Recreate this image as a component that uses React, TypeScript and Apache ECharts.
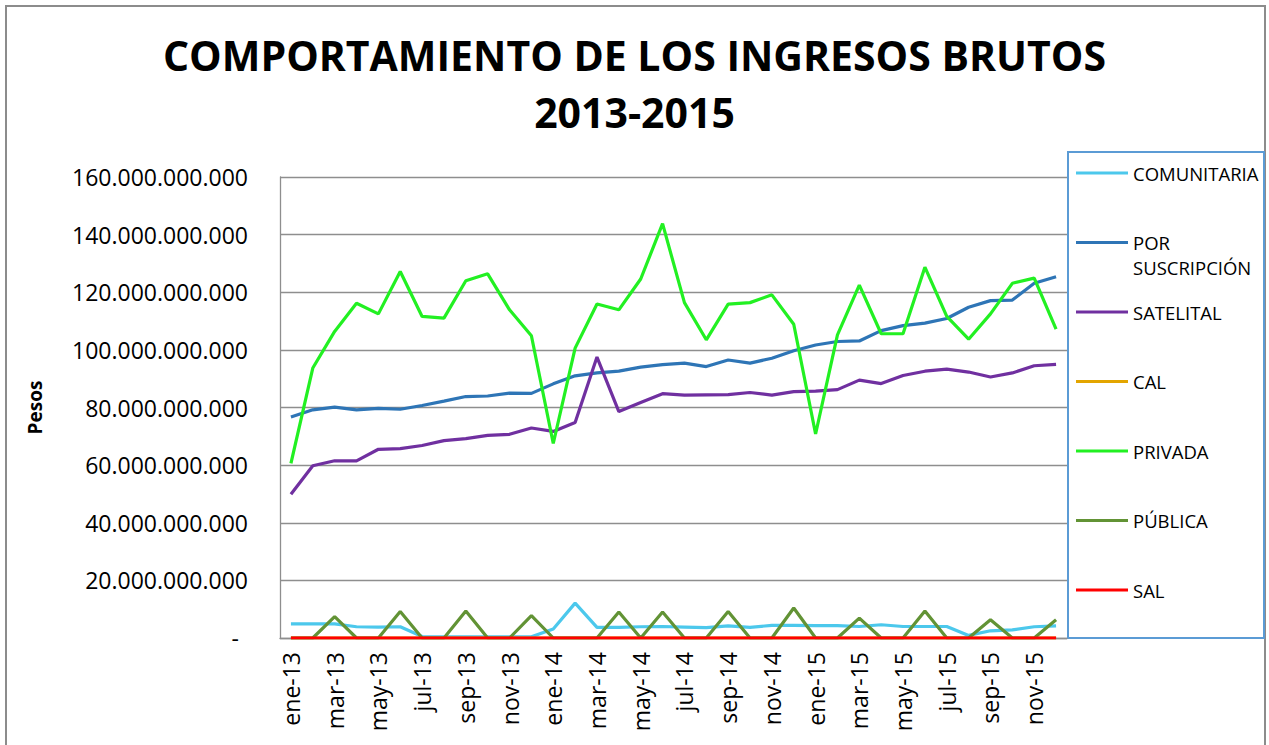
import React, { useEffect, useRef } from "react";
import * as echarts from "echarts";

const months = [
  "ene-13","feb-13","mar-13","abr-13","may-13","jun-13","jul-13","ago-13","sep-13","oct-13","nov-13","dic-13",
  "ene-14","feb-14","mar-14","abr-14","may-14","jun-14","jul-14","ago-14","sep-14","oct-14","nov-14","dic-14",
  "ene-15","feb-15","mar-15","abr-15","may-15","jun-15","jul-15","ago-15","sep-15","oct-15","nov-15","dic-15",
];

// values in miles de millones de pesos (x 1.000.000.000)
const comunitaria = [4.9,4.9,4.9,3.9,3.8,3.9,0.5,0.4,0.4,0.4,0.4,0.4,3.1,12.1,3.7,3.7,3.9,4.0,3.8,3.6,4.2,3.7,4.4,4.4,4.3,4.3,4.0,4.6,4.0,4.0,4.0,0.9,2.5,2.8,3.9,4.2];
const porSuscripcion = [76.7,79.2,80.1,79.2,79.7,79.4,80.7,82.2,83.8,84.0,85.0,84.9,88.2,91.0,92.0,92.6,94.0,94.9,95.4,94.2,96.5,95.4,97.1,99.7,101.7,102.9,103.1,106.7,108.4,109.3,110.9,114.8,117.1,117.3,123.1,125.4];
const satelital = [49.9,59.8,61.5,61.5,65.5,65.7,66.8,68.5,69.2,70.3,70.7,72.9,71.7,74.8,97.5,78.6,81.7,84.8,84.3,84.4,84.5,85.2,84.3,85.5,85.7,86.2,89.5,88.3,91.1,92.6,93.3,92.3,90.6,92.0,94.5,95.0];
const cal = [0,0,0,0,0,0,0,0,0,0,0,0,0,0,0,0,0,0,0,0,0,0,0,0,0,0,0,0,0,0,0,0,0,0,0,0];
const privada = [60.6,93.7,106.4,116.2,112.5,127.2,111.6,111.0,124.0,126.4,113.9,104.9,67.5,100.6,115.9,113.9,124.6,143.8,116.4,103.5,115.9,116.4,119.1,108.9,70.8,105.2,122.5,105.6,105.6,128.7,111.6,103.7,112.5,123.1,124.9,107.2];
const publica = [0,0,7.4,0,0,9.2,0,0,9.4,0,0,7.8,0,0,0,9.0,0,9.0,0,0,9.2,0,0,10.4,0,0,6.9,0,0,9.4,0,0,6.3,0,0,6.3];
const sal = [0,0,0,0,0,0,0,0,0,0,0,0,0,0,0,0,0,0,0,0,0,0,0,0,0,0,0,0,0,0,0,0,0,0,0,0];

const seriesNames = ["COMUNITARIA", "POR SUSCRIPCIÓN", "SATELITAL", "CAL", "PRIVADA", "PÚBLICA", "SAL"];
const seriesData = [comunitaria, porSuscripcion, satelital, cal, privada, publica, sal];
const seriesColors = ["#4CC8EC", "#2E75B6", "#7030A0", "#E3A500", "#22F022", "#629335", "#FF0000"];

const FONT = "'Open Sans', sans-serif";

function fmtPesos(v: number): string {
  if (v === 0) return "{z|-}";
  const s = String(Math.round(v * 1e9));
  return s.replace(/\B(?=(\d{3})+(?!\d))/g, ".");
}

export default function App() {
  const ref = useRef<HTMLDivElement>(null);
  useEffect(() => {
    if (!ref.current) return;
    const chart = echarts.init(ref.current, undefined, { renderer: "svg" });
    chart.setOption({
      animation: false,
      backgroundColor: "#ffffff",
      title: {
        text: "COMPORTAMIENTO DE LOS INGRESOS BRUTOS\n2013-2015",
        left: "center",
        top: 21,
        textStyle: {
          fontFamily: FONT,
          fontWeight: "bold",
          fontSize: 41,
          lineHeight: 57,
          color: "#000",
        },
      },
      grid: { left: 280, right: 202, top: 177, bottom: 107, containLabel: false },
      legend: {
        orient: "vertical",
        left: 1076,
        top: 163,
        icon: "rect",
        itemWidth: 52,
        itemHeight: 3.2,
        itemGap: 49.5,
        padding: 0,
        data: seriesNames,
        formatter: (name: string) => (name === "POR SUSCRIPCIÓN" ? "POR" : name),
        textStyle: { fontFamily: FONT, fontSize: 18.5, color: "#000", lineHeight: 20 },
      },
      xAxis: {
        type: "category",
        data: months,
        boundaryGap: true,
        axisLine: { lineStyle: { color: "#8e8e8e", width: 1.3 } },
        axisTick: { show: false },
        axisLabel: {
          interval: 1,
          rotate: 90,
          margin: 14,
          fontFamily: FONT,
          fontSize: 23,
          color: "#000",
        },
      },
      yAxis: {
        type: "value",
        min: 0,
        max: 160,
        interval: 20,
        name: "Pesos",
        nameLocation: "middle",
        nameRotate: 90,
        nameGap: 236,
        nameTextStyle: { fontFamily: FONT, fontWeight: "bold", fontSize: 19, color: "#000" },
        axisLine: { show: true, lineStyle: { color: "#8e8e8e", width: 1.3 } },
        axisTick: { show: false },
        splitLine: { lineStyle: { color: "#8e8e8e", width: 1.3 } },
        axisLabel: {
          margin: 32,
          fontFamily: FONT,
          fontSize: 23,
          color: "#000",
          formatter: fmtPesos,
          rich: { z: { fontFamily: FONT, fontSize: 23, color: "#000", padding: [0, 9, 0, 0] } },
        },
      },
      series: seriesNames.map((name, i) => ({
        name,
        type: "line",
        data: seriesData[i],
        symbol: "none",
        smooth: false,
        color: seriesColors[i],
        itemStyle: { color: seriesColors[i] },
        lineStyle: { color: seriesColors[i], width: 3.2 },
      })),
      graphic: [
        {
          type: "rect",
          shape: { x: 6, y: 6, width: 1259, height: 800 },
          style: { fill: "none", stroke: "#8c8c8c", lineWidth: 2 },
          silent: true,
        },
        {
          type: "rect",
          shape: { x: 1068, y: 152, width: 196, height: 486 },
          style: { fill: "none", stroke: "#5B9BD5", lineWidth: 2 },
          silent: true,
        },
        {
          type: "text",
          x: 1133,
          y: 267,
          style: {
            text: "SUSCRIPCIÓN",
            fontFamily: FONT,
            fontSize: 18.5,
            fill: "#000",
            verticalAlign: "middle",
            align: "left",
          },
          silent: true,
        },
      ],
    });
    return () => chart.dispose();
  }, []);
  return (
    <div
      ref={ref}
      style={{ position: "fixed", left: 0, top: 0, width: 1269, height: 745 }}
    />
  );
}
